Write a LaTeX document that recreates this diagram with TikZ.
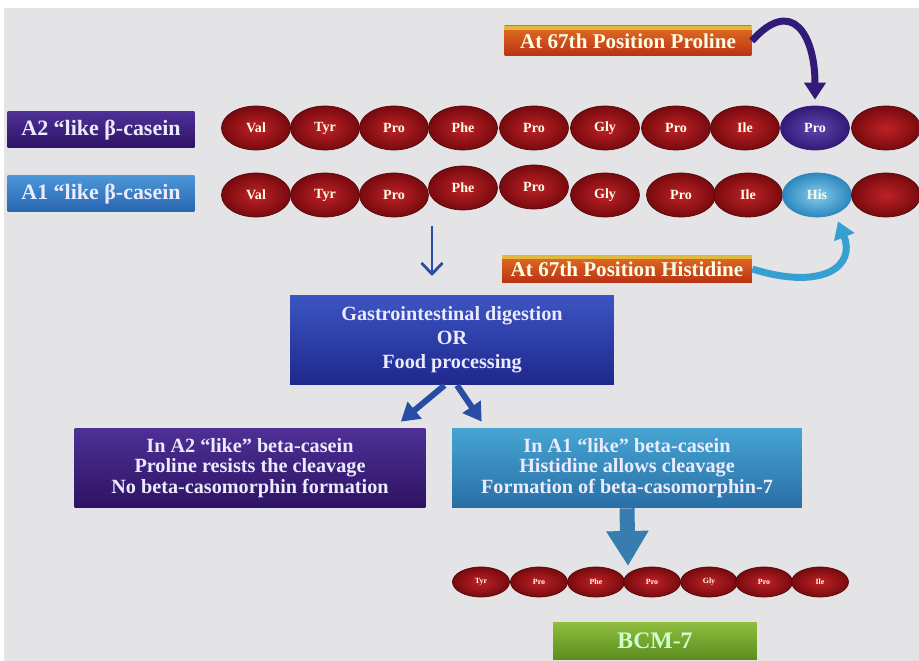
\documentclass[tikz,border=0pt]{standalone}
\usepackage{fontspec}
\setmainfont{Liberation Serif}
\usetikzlibrary{positioning, shapes.geometric, arrows.meta}

\definecolor{bgcol}{RGB}{228,228,230}
\definecolor{beaddark}{RGB}{120,10,14}
\definecolor{beadlight}{RGB}{190,34,38}
\definecolor{prodark}{RGB}{50,26,120}
\definecolor{prolight}{RGB}{95,70,175}
\definecolor{hisdark}{RGB}{45,135,190}
\definecolor{hislight}{RGB}{130,205,235}
\definecolor{purptop}{RGB}{78,48,150}
\definecolor{purpbot}{RGB}{45,18,100}
\definecolor{bluetop}{RGB}{75,150,215}
\definecolor{bluebot}{RGB}{40,100,175}
\definecolor{gidtop}{RGB}{60,85,195}
\definecolor{gidbot}{RGB}{30,40,140}
\definecolor{tealtop}{RGB}{70,165,210}
\definecolor{tealbot}{RGB}{40,110,165}
\definecolor{orgtop}{RGB}{225,110,35}
\definecolor{orgbot}{RGB}{185,50,20}
\definecolor{stripcol}{RGB}{225,185,60}
\definecolor{greentop}{RGB}{145,190,65}
\definecolor{greenbot}{RGB}{90,140,30}
\definecolor{arrowblue}{RGB}{40,75,165}
\definecolor{bigarrow}{RGB}{55,125,175}
\definecolor{hisarrow}{RGB}{55,160,210}

\tikzset{
  bead/.style={ellipse, inner sep=0pt, minimum width=1.38cm, minimum height=0.88cm,
    shading=radial, inner color=beadlight, outer color=beaddark, draw=beaddark!70!black,
    text=white!92!yellow, font=\bfseries\fontsize{8}{9}\selectfont},
  smallbead/.style={bead, minimum width=1.14cm, minimum height=0.6cm,
    font=\bfseries\fontsize{4.5}{5}\selectfont},
  casebox/.style={rectangle, inner sep=2pt, align=center, text=white!92!blue,
    font=\bfseries\fontsize{12.5}{13}\selectfont},
  infobox/.style={casebox, font=\bfseries\fontsize{11.5}{11.8}\selectfont},
  posbox/.style={casebox, top color=orgtop, bottom color=orgbot, text=white!90!yellow,
    font=\bfseries\fontsize{12}{13}\selectfont},
}

\begin{document}
\begin{tikzpicture}[x=0.02cm, y=-0.02cm]

    % Background
    \useasboundingbox (0,0) rectangle (919,661);
    \fill[white] (0,0) rectangle (919,661);
    \fill[bgcol] (4,8) rectangle (919,661);

    % Variant labels
    \node[casebox, minimum width=3.74cm, minimum height=0.72cm, top color=purptop, bottom color=purpbot]
        (a2lab) at (101,130) {A2 “like β-casein};
    \node[casebox, minimum width=3.74cm, minimum height=0.72cm, top color=bluetop, bottom color=bluebot]
        (a1lab) at (101,194) {A1 “like β-casein};

    % A2 chain
    \foreach \x/\lab [count=\i] in {256/Val, 325/Tyr, 394/Pro, 463/Phe, 534/Pro, 605/Gly, 676/Pro, 745/Ile}
        \node[bead] (a2b\i) at (\x,128) {\lab};
    \node[bead, inner color=prolight, outer color=prodark, draw=prodark] (a2b9) at (815,128) {Pro};
    \node[bead] (a2b10) at (886,128) {};

    % A1 chain
    \foreach \x/\y/\lab [count=\i] in {256/195/Val, 325/195/Tyr, 394/195/Pro, 463/188/Phe, 534/187/Pro,
                                        605/195/Gly, 681/195/Pro, 748/195/Ile}
        \node[bead] (a1b\i) at (\x,\y) {\lab};
    \node[bead, inner color=hislight, outer color=hisdark, draw=hisdark] (a1b9) at (817,195) {His};
    \node[bead] (a1b10) at (886,195) {};

    % Position notes
    \node[posbox, minimum width=4.94cm, minimum height=0.6cm] (prol) at (628,41) {At 67th Position Proline};
    \fill[stripcol] (prol.north west) rectangle ([yshift=-0.09cm]prol.north east);
    \node[posbox, minimum width=5cm, minimum height=0.54cm] (hisl) at (627,269) {At 67th Position Histidine};
    \fill[stripcol] (hisl.north west) rectangle ([yshift=-0.08cm]hisl.north east);

    % Curved pointers
    \draw[-{Triangle[width=0.42cm, length=0.34cm]}, line width=0.14cm, prodark]
        (prol.east) .. controls +(40,-45) and +(0,-65) .. ([yshift=0.12cm]a2b9.north);
    \draw[-{Triangle[width=0.42cm, length=0.34cm]}, line width=0.14cm, hisarrow]
        (hisl.east) .. controls +(70,22) and +(18,45) .. ([xshift=0.42cm, yshift=-0.08cm]a1b9.south);

    % Digestion
    \coordinate (cuttop) at (432,226);
    \coordinate (cutend) at (432,276);
    \draw[-{Straight Barb[length=0.22cm, width=0.42cm]}, line width=1.6pt, arrowblue] (cuttop) -- (cutend);
    \node[infobox, minimum width=6.48cm, minimum height=1.8cm, top color=gidtop, bottom color=gidbot,
        font=\bfseries\fontsize{11.5}{13.6}\selectfont]
        (gid) at (452,340) {Gastrointestinal digestion\\OR\\Food processing};

    % Outcomes
    \node[infobox, minimum width=7.02cm, minimum height=1.6cm, top color=purptop, bottom color=purpbot]
        (a2box) at (250,468) {In A2 “like” beta-casein\\Proline resists the cleavage\\No beta-casomorphin formation};
    \node[infobox, minimum width=7cm, minimum height=1.6cm, top color=tealtop, bottom color=tealbot]
        (a1box) at (627,468) {In A1 “like” beta-casein\\Histidine allows cleavage\\Formation of beta-casomorphin-7};
    \draw[-{Triangle[width=0.42cm, length=0.36cm]}, line width=0.12cm, arrowblue]
        ([xshift=-0.15cm]gid.south) -- ([xshift=-0.5cm, yshift=0.12cm]a2box.north east);
    \draw[-{Triangle[width=0.42cm, length=0.36cm]}, line width=0.12cm, arrowblue]
        ([xshift=0.1cm]gid.south) -- ([xshift=0.6cm, yshift=0.12cm]a1box.north west);

    % BCM-7 peptide
    \coordinate (cleave) at (628,566);
    \draw[-{Triangle[width=0.8cm, length=0.7cm]}, line width=0.3cm, bigarrow] (a1box.south) -- (cleave);
    \foreach \x/\lab [count=\i] in {481/Tyr, 539/Pro, 596/Phe, 652/Pro, 709/Gly, 764/Pro, 820/Ile}
        \node[smallbead] (bcb\i) at (\x,582) {\lab};
    \node[casebox, minimum width=4.08cm, minimum height=0.76cm, top color=greentop, bottom color=greenbot,
        text=white!80!green, font=\bfseries\fontsize{13.5}{14}\selectfont]
        (bcm) at (655,641) {BCM-7};

\end{tikzpicture}
\end{document}
